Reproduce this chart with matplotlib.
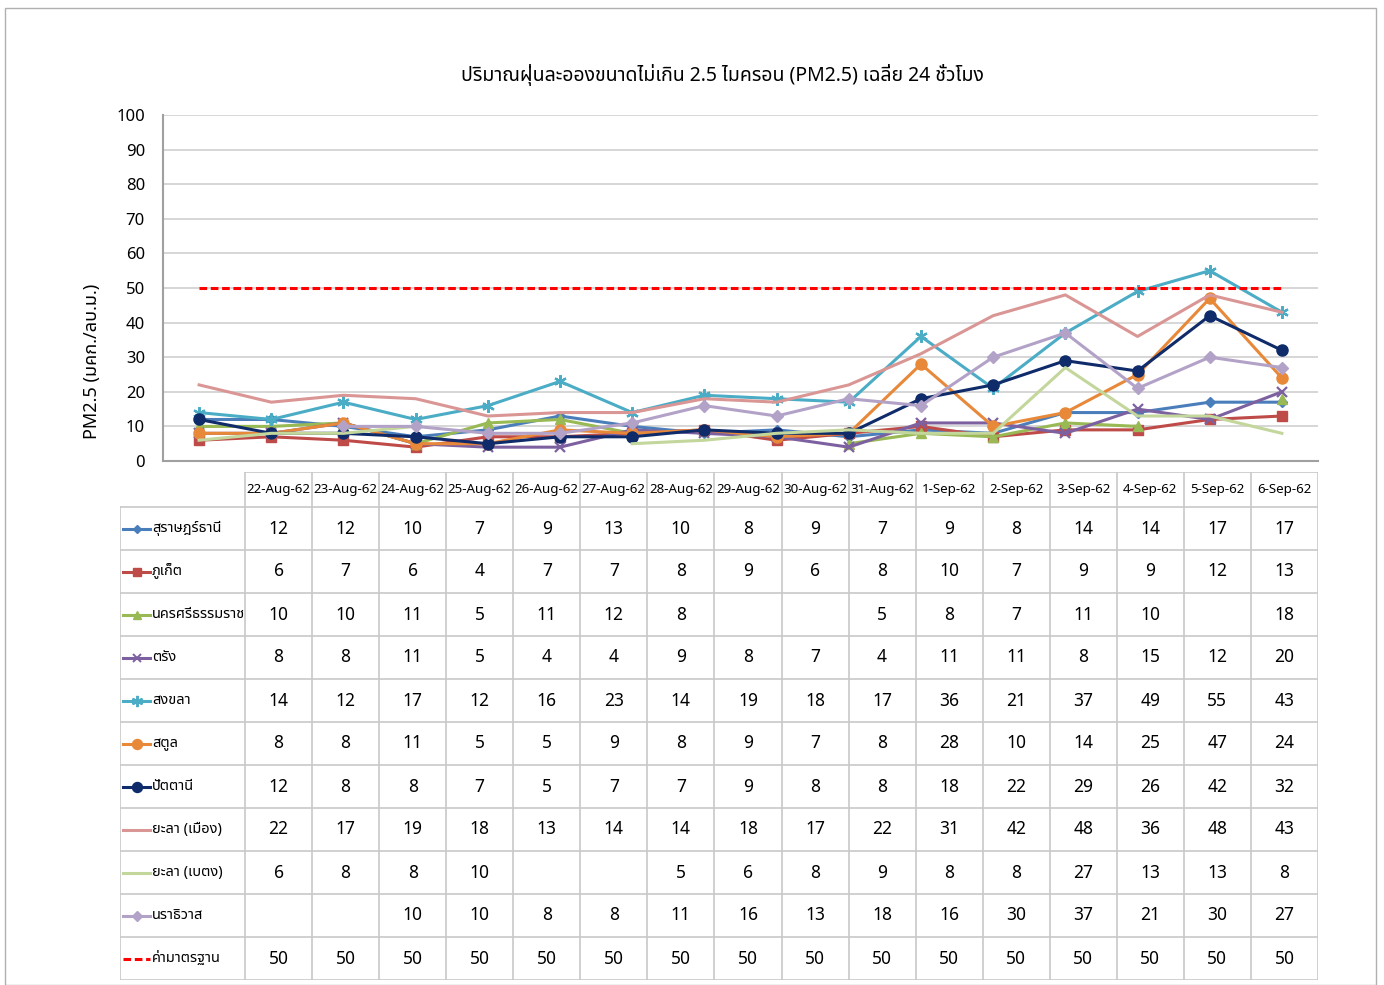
import numpy as np
import matplotlib
matplotlib.use('Agg')
import matplotlib.pyplot as plt
from matplotlib.patches import Rectangle

plt.rcParams['font.family'] = ['Noto Sans Thai', 'DejaVu Sans']

nan = np.nan
dates = ['22-Aug-62', '23-Aug-62', '24-Aug-62', '25-Aug-62', '26-Aug-62', '27-Aug-62',
         '28-Aug-62', '29-Aug-62', '30-Aug-62', '31-Aug-62', '1-Sep-62', '2-Sep-62',
         '3-Sep-62', '4-Sep-62', '5-Sep-62', '6-Sep-62']

stations = ['สุราษฎร์ธานี', 'ภูเก็ต', 'นครศรีธรรมราช', 'ตรัง', 'สงขลา', 'สตูล',
            'ปัตตานี', 'ยะลา (เมือง)', 'ยะลา (เบตง)', 'นราธิวาส', 'ค่ามาตรฐาน']

surat = [12, 12, 10, 7, 9, 13, 10, 8, 9, 7, 9, 8, 14, 14, 17, 17]
phuket = [6, 7, 6, 4, 7, 7, 8, 9, 6, 8, 10, 7, 9, 9, 12, 13]
nakhon = [10, 10, 11, 5, 11, 12, 8, nan, nan, 5, 8, 7, 11, 10, nan, 18]
trang = [8, 8, 11, 5, 4, 4, 9, 8, 7, 4, 11, 11, 8, 15, 12, 20]
songkhla = [14, 12, 17, 12, 16, 23, 14, 19, 18, 17, 36, 21, 37, 49, 55, 43]
satun = [8, 8, 11, 5, 5, 9, 8, 9, 7, 8, 28, 10, 14, 25, 47, 24]
pattani = [12, 8, 8, 7, 5, 7, 7, 9, 8, 8, 18, 22, 29, 26, 42, 32]
yala_mueang = [22, 17, 19, 18, 13, 14, 14, 18, 17, 22, 31, 42, 48, 36, 48, 43]
yala_betong = [6, 8, 8, 10, nan, nan, 5, 6, 8, 9, 8, 8, 27, 13, 13, 8]
narathiwat = [nan, nan, 10, 10, 8, 8, 11, 16, 13, 18, 16, 30, 37, 21, 30, 27]
standard = [50] * 16

series = [surat, phuket, nakhon, trang, songkhla, satun, pattani,
          yala_mueang, yala_betong, narathiwat, standard]

colors = ['#4A7EBB', '#BE4B48', '#98B954', '#7D60A0', '#4BACC6', '#E8893A',
          '#0F2B6A', '#D99694', '#C3D69B', '#B3A2C7', '#FF0000']
# (6, 2, 0) = asterisk like the excel star marker
markers = ['D', 's', '^', 'x', (6, 2, 0), 'o', 'o', None, None, 'D', None]
msizes = [5, 7, 7, 7, 9, 8, 8, 0, 0, 6, 0]
thin = ['x', (6, 2, 0)]

W, H = 1384, 985
fig = plt.figure(figsize=(W / 100, H / 100), dpi=100)

def px(x0, y0, x1, y1):
    return [x0 / W, 1 - y1 / H, (x1 - x0) / W, (y1 - y0) / H]

ndays = len(dates)
xs = np.arange(ndays)

ax = fig.add_axes(px(163, 115, 1318, 461))
for i in range(len(series)):
    y = np.array(series[i], dtype=float)
    if stations[i] == 'ค่ามาตรฐาน':
        ax.plot(xs, y, color=colors[i], lw=2.2, ls=(0, (2.5, 1.2)), zorder=5)
    else:
        mk = markers[i]
        ax.plot(xs, y, color=colors[i], lw=2.2, marker=mk, ms=msizes[i],
                mew=1.6 if mk in thin else 1, zorder=3)
ax.set_xlim(-0.5, ndays - 0.5)
ax.set_ylim(0, 100)
ax.set_yticks(range(0, 101, 10))
ax.set_xticks([])
ax.grid(axis='y', color='#D0D0D0', lw=1.2)
ax.set_axisbelow(True)
for s in ['top', 'right']:
    ax.spines[s].set_visible(False)
ax.spines['left'].set_color('#A0A0A0')
ax.spines['bottom'].set_color('#A0A0A0')
ax.spines['left'].set_linewidth(1.5)
ax.spines['bottom'].set_linewidth(1.5)
ax.tick_params(axis='y', length=0, labelsize=12, pad=13)

fig.text(722 / W, 1 - 75 / H, 'ปริมาณฝุ่นละอองขนาดไม่เกิน 2.5 ไมครอน (PM2.5) เฉลี่ย 24 ชั่วโมง',
         ha='center', va='center', fontsize=14)
fig.text(92 / W, 1 - 361 / H, 'PM2.5 (มคก./ลบ.ม.)', rotation=90,
         ha='center', va='center', fontsize=13, fontweight='semibold')

# data table under the chart
tx0, tx1, ty0, ty1 = 120, 1318, 472, 980
tab = fig.add_axes(px(tx0, ty0, tx1, ty1))
tab.set_xlim(tx0, tx1)
tab.set_ylim(ty1, ty0)
tab.axis('off')
hdr_w = 125
colw = (tx1 - tx0 - hdr_w) / ndays
hdr_h = 35
rowh = (ty1 - ty0 - hdr_h) / len(series)
gcol = '#C8C8C8'
cx0 = tx0 + hdr_w
tab.plot([cx0, tx1], [ty0, ty0], color=gcol, lw=1.2)
for j in range(ndays + 1):
    xv = cx0 + j * colw
    tab.plot([xv, xv], [ty0, ty1], color=gcol, lw=1.2)
tab.plot([tx0, tx0], [ty0 + hdr_h, ty1], color=gcol, lw=1.2)
for r in range(len(series) + 1):
    yv = ty0 + hdr_h + r * rowh
    tab.plot([tx0, tx1], [yv, yv], color=gcol, lw=1.2)
for j in range(ndays):
    tab.text(cx0 + (j + 0.5) * colw, ty0 + hdr_h / 2, dates[j],
             ha='center', va='center', fontsize=9.6)
for r in range(len(series)):
    yc = ty0 + hdr_h + (r + 0.5) * rowh
    if stations[r] == 'ค่ามาตรฐาน':
        tab.plot([123, 150], [yc, yc], color=colors[r], lw=2.2, ls=(0, (2.5, 1.2)))
    else:
        tab.plot([123, 150], [yc, yc], color=colors[r], lw=2.2)
        if markers[r]:
            tab.plot([136.5], [yc], color=colors[r], marker=markers[r], ms=msizes[r] * 0.9,
                     mew=1.4 if markers[r] in thin else 1)
    tab.text(152, yc, stations[r], ha='left', va='center', fontsize=10.5)
    vals = series[r]
    for j in range(ndays):
        v = vals[j]
        if not np.isnan(v):
            tab.text(cx0 + (j + 0.5) * colw, yc, '%d' % v, ha='center', va='center', fontsize=12.5)

# thin frame around the whole picture
fig.patches.append(Rectangle((5 / W, 0), 1371 / W, 1 - 8 / H, transform=fig.transFigure,
                             fill=False, ec='#B0B0B0', lw=1))

fig.savefig('out.png', dpi=100)
